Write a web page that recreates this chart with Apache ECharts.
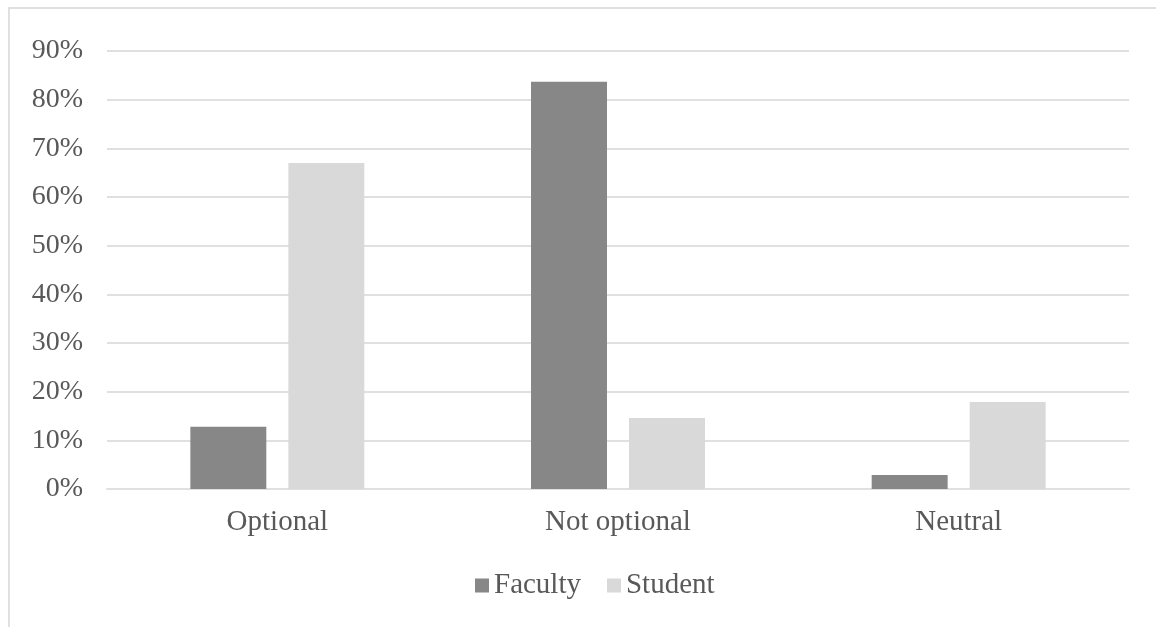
<!DOCTYPE html>
<html>
<head>
<meta charset="utf-8">
<script src="https://cdn.jsdelivr.net/npm/echarts@6/dist/echarts.min.js"></script>
<style>
html,body{margin:0;padding:0;background:#fff;}
#chart{width:1156px;height:627px;}
</style>
</head>
<body>
<div id="chart"></div>
<script>
const categories = ['Optional', 'Not optional', 'Neutral'];
const faculty = [12.8, 83.7, 2.9];
const student = [67.0, 14.6, 17.9];
const yTicks = [0, 10, 20, 30, 40, 50, 60, 70, 80, 90];

const chart = echarts.init(document.getElementById('chart'));
const font = '"Liberation Serif", "Times New Roman", serif';
chart.setOption({
  animation: false,
  backgroundColor: '#fff',
  graphic: [{
    type: 'rect',
    shape: {x: 9, y: 8, width: 1200, height: 700},
    style: {fill: 'none', stroke: '#e0e0e0', lineWidth: 2},
    silent: true
  }],
  grid: {left: 107, right: 27, top: 51, bottom: 138},
  legend: {
    data: ['Faculty', 'Student'],
    top: 571,
    left: 475,
    padding: 0,
    icon: 'rect',
    itemWidth: 14,
    itemHeight: 14,
    itemGap: 26,
    textStyle: {fontFamily: font, fontSize: 29, color: '#595959'}
  },
  xAxis: {
    type: 'category',
    data: categories,
    axisLine: {lineStyle: {color: '#e0e0e0', width: 2}},
    axisTick: {show: false},
    axisLabel: {fontFamily: font, fontSize: 29, color: '#595959', margin: 19}
  },
  yAxis: {
    type: 'value',
    min: yTicks[0],
    max: yTicks[yTicks.length - 1],
    interval: 10,
    axisLine: {show: false},
    axisTick: {show: false},
    splitLine: {lineStyle: {color: '#e0e0e0', width: 2}},
    axisLabel: {fontFamily: font, fontSize: 28, color: '#595959', margin: 24, formatter: v => v + '%'}
  },
  series: [
    {name: 'Faculty', type: 'bar', data: faculty, barWidth: '22.3%', barGap: '29%', itemStyle: {color: '#878787'}},
    {name: 'Student', type: 'bar', data: student, barWidth: '22.3%', barGap: '29%', itemStyle: {color: '#d9d9d9'}}
  ]
});
</script>
</body>
</html>
